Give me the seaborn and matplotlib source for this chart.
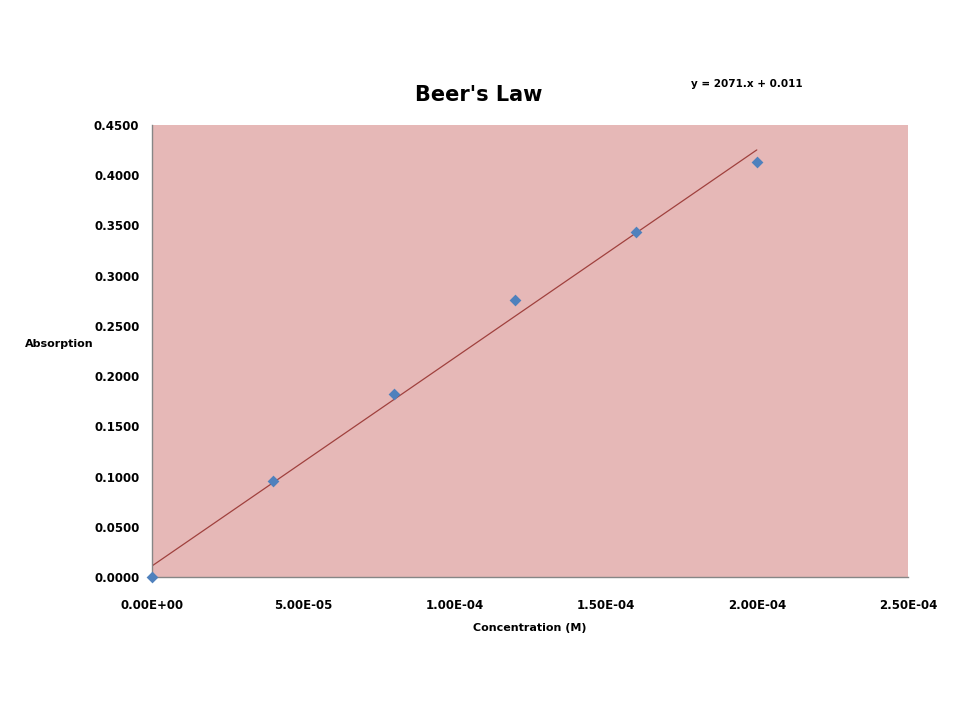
import matplotlib
matplotlib.use("Agg")
import matplotlib.pyplot as plt
import seaborn as sns
import pandas as pd
from matplotlib.ticker import FuncFormatter, MultipleLocator

concentration = [0.0, 4.0e-5, 8.0e-5, 1.2e-4, 1.6e-4, 2.0e-4]
absorption = [0.0, 0.0956, 0.1822, 0.2758, 0.3430, 0.4128]
fit_slope = 2071.0
fit_intercept = 0.011
fit_x = [0.0, 2.0e-4]
fit_y = [fit_intercept + fit_slope * v for v in fit_x]

sns.set_theme(style="white")
plt.rcParams['font.family'] = ['DejaVu Sans Condensed', 'DejaVu Sans']
plt.rcParams['text.color'] = 'black'

fig = plt.figure(figsize=(9.6, 7.2), dpi=100)
ax = fig.add_axes([152/960, 1-577/720, (908-152)/960, (577-125)/720])
ax.set_facecolor('#E6B8B7')

df = pd.DataFrame({'x': concentration, 'y': absorption})
fit = pd.DataFrame({'x': fit_x, 'y': fit_y})
sns.lineplot(data=fit, x='x', y='y', ax=ax, color='#A0413E', linewidth=0.9, zorder=2)
sns.scatterplot(data=df, x='x', y='y', ax=ax, marker='D', s=36, color='#4F81BD',
                edgecolor='#4F81BD', linewidth=0, zorder=3, clip_on=False)

ax.set_xlim(0, 2.5e-4)
ax.set_ylim(0, 0.45)
ax.xaxis.set_major_locator(MultipleLocator(5e-5))
ax.yaxis.set_major_locator(MultipleLocator(0.05))

def xfmt(v, pos):
    if abs(v) < 1e-12:
        return '0.00E+00'
    s = f"{v:.2E}"
    m, e = s.split('E')
    sign = e[0]
    return f"{m}E{sign}{int(e[1:]):02d}"

ax.xaxis.set_major_formatter(FuncFormatter(xfmt))
ax.yaxis.set_major_formatter(FuncFormatter(lambda v, p: f"{v:.4f}"))

for side in ['top', 'right']:
    ax.spines[side].set_visible(False)
for side in ['left', 'bottom']:
    ax.spines[side].set_color('#868686')
    ax.spines[side].set_linewidth(1.0)

ax.tick_params(axis='both', which='major', direction='out', length=5, width=1,
               color='#868686', labelsize=8.5, labelcolor='black')
for lab in ax.get_xticklabels() + ax.get_yticklabels():
    lab.set_fontweight('bold')
ax.tick_params(axis='x', pad=11)
ax.tick_params(axis='y', pad=4)

ax.set_xlabel('Concentration (M)', fontsize=8, fontweight='bold', labelpad=8,
              color='black')
ax.set_ylabel('')
fig.text(59/960, 1-344/720, 'Absorption', fontsize=8, fontweight='bold',
         ha='center', va='center', color='black')
fig.text(479/960, 1-95/720, "Beer's Law", fontsize=15, fontweight='bold',
         ha='center', va='center', color='black')
fig.text(747/960, 1-84/720, 'y = 2071.x + 0.011', fontsize=7.5, fontweight='bold',
         ha='center', va='center', color='black')

fig.savefig('out.png', dpi=100)
